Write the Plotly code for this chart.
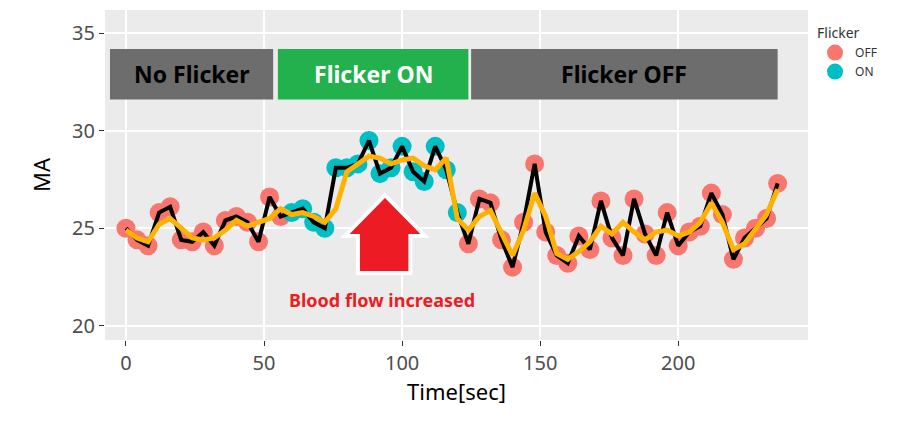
import plotly.graph_objects as go

time = list(range(0, 240, 4))
ma = [25.0,24.4,24.1,25.8,26.1,24.4,24.3,24.8,24.1,25.4,25.6,25.3,24.3,26.6,25.6,
      25.8,26.0,25.3,25.0,28.1,28.1,28.3,29.5,27.8,28.1,29.2,27.9,27.4,29.2,28.0,25.8,
      24.2,26.5,26.3,24.4,23.0,25.3,28.3,24.8,23.6,23.2,24.6,23.9,26.4,24.5,23.6,26.5,
      24.7,23.6,25.8,24.1,24.8,25.1,26.8,25.7,23.4,24.5,25.0,25.5,27.3]
flicker = ["OFF"]*15 + ["ON"]*16 + ["OFF"]*29
smooth = [24.9,24.5,24.3,25.2,25.5,25.0,24.5,24.4,24.5,24.9,25.4,25.1,25.3,25.5,26.0,
          25.7,25.8,25.6,25.3,26.0,27.9,28.3,28.7,28.6,28.3,28.5,28.6,28.2,28.0,28.6,25.5,
          24.9,25.6,25.9,24.8,23.6,24.9,26.8,25.6,23.7,23.4,23.8,24.3,25.1,24.7,25.3,24.8,
          24.4,24.8,24.9,24.6,24.8,25.3,26.3,25.3,23.9,24.2,24.9,25.7,27.0]

colors = {"OFF": "#F8766D", "ON": "#00BFC4"}
fig = go.Figure()
for g in ["OFF", "ON"]:
    xs = [t for t, f in zip(time, flicker) if f == g]
    ys = [v for v, f in zip(ma, flicker) if f == g]
    fig.add_trace(go.Scatter(x=xs, y=ys, mode="markers", name=g,
                             marker=dict(size=19, color=colors[g])))
fig.add_trace(go.Scatter(x=time, y=ma, mode="lines", line=dict(color="black", width=4),
                         showlegend=False))
fig.add_trace(go.Scatter(x=time, y=smooth, mode="lines", line=dict(color="#FFB300", width=5),
                         showlegend=False))

boxes = [(-5.8, 53.3, "#6d6d6d", "No Flicker", "black"),
         (55, 124, "#22b14c", "Flicker ON", "white"),
         (125, 236, "#6d6d6d", "Flicker OFF", "black")]
for x0, x1, c, t, tc in boxes:
    fig.add_shape(type="rect", x0=x0, x1=x1, y0=31.6, y1=34.2, fillcolor=c, line_width=0)
    fig.add_annotation(x=(x0+x1)/2, y=32.9, text="<b>%s</b>" % t, showarrow=False,
                       font=dict(size=23, color=tc, family="Noto Sans"))
fig.add_shape(type="path",
              path="M 93.8 26.7 L 108.3 24.6 L 103 24.6 L 103 22.7 L 84 22.7 L 84 24.6 L 79.3 24.6 Z",
              fillcolor="#ED1C24", line=dict(color="white", width=4))
fig.add_annotation(x=92.8, y=21.3, text="<b>Blood flow increased</b>", showarrow=False,
                   font=dict(size=18, color="#ED1C24", family="Noto Sans"))

fig.update_layout(
    width=915, height=426, margin=dict(l=97, r=115, t=2, b=94),
    plot_bgcolor="#EBEBEB", paper_bgcolor="white",
    font=dict(family="Noto Sans", color="#333"),
    legend=dict(title=dict(text="Flicker", font=dict(size=14)), x=1.01, y=0.97, yanchor="top",
                font=dict(size=12), tracegroupgap=14),
)
fig.update_xaxes(range=[-7.6, 247], tickvals=[0, 50, 100, 150, 200], gridcolor="white",
                 gridwidth=1.5, zeroline=False, title=dict(text="Time[sec]", font=dict(size=22, color="black"), standoff=8),
                 tickfont=dict(size=20, color="#4d4d4d"), ticks="outside", tickcolor="#333")
fig.update_yaxes(range=[19.26, 36.2], tickvals=[20, 25, 30, 35], gridcolor="white",
                 gridwidth=1.5, zeroline=False, title=dict(text="MA", font=dict(size=22, color="black")),
                 tickfont=dict(size=20, color="#4d4d4d"), ticks="outside", tickcolor="#333")
fig.write_html("out.html")
